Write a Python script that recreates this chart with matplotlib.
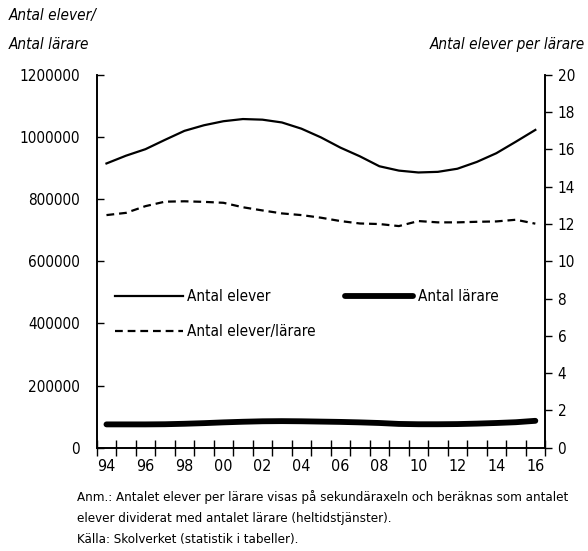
import numpy as np
import matplotlib.pyplot as plt
from matplotlib.ticker import FixedLocator, NullFormatter

plt.rcParams['font.family'] = ['DejaVu Sans']
plt.rcParams['font.stretch'] = 'condensed'

# ---- data ----
years = ['94', '95', '96', '97', '98', '99', '00', '01', '02', '03', '04', '05',
         '06', '07', '08', '09', '10', '11', '12', '13', '14', '15', '16']

elever = [915000, 940000, 961000, 991000, 1020000, 1038000, 1051000, 1058000,
          1056000, 1047000, 1027000, 999000, 966000, 938000, 906000, 892000,
          886000, 888000, 898000, 920000, 948000, 985000, 1023000]

larare = [75000, 75000, 75000, 75500, 77000, 79000, 81500, 83500, 85000, 85500,
          85000, 84000, 83000, 81500, 79500, 76500, 75500, 75500, 76000, 77500,
          79500, 82000, 86500]

elever_per_larare = [12.48, 12.6, 12.96, 13.2, 13.22, 13.19, 13.14, 12.9, 12.73,
                     12.57, 12.48, 12.34, 12.16, 12.03, 12.0, 11.89, 12.16, 12.09,
                     12.09, 12.12, 12.14, 12.23, 12.02]

left_ticks = [0, 200000, 400000, 600000, 800000, 1000000, 1200000]
right_ticks = [0, 2, 4, 6, 8, 10, 12, 14, 16, 18, 20]

x = np.arange(len(years))

fig = plt.figure(figsize=(5.88, 5.51), dpi=100)
ax = fig.add_axes([0.1645, 0.1875, 0.7625, 0.6765])
ax2 = ax.twinx()

l1, = ax.plot(x, elever, color='black', lw=1.6, label='Antal elever')
l2, = ax.plot(x, larare, color='black', lw=4.2, solid_capstyle='round',
              label='Antal lärare')
l3, = ax2.plot(x, elever_per_larare, color='black', lw=1.6, ls=(0, (3.5, 2.2)),
               label='Antal elever/lärare')

ax.set_xlim(-0.5, len(years) - 0.5)
ax.set_ylim(0, 1200000)
ax2.set_ylim(0, 20)

for a in (ax, ax2):
    a.spines['top'].set_visible(False)
    a.spines['left'].set_linewidth(1.2)
    a.spines['right'].set_linewidth(1.2)
    a.spines['bottom'].set_linewidth(1.2)

ax.set_yticks(left_ticks)
ax.set_yticklabels([str(v) for v in left_ticks])
ax.tick_params(axis='y', direction='in', length=5, width=1, pad=12, labelsize=11)

ax2.set_yticks(right_ticks)
ax2.tick_params(axis='y', direction='out', length=5, width=1, pad=4, labelsize=11)

# year labels every other year, tick marks between years
ax.set_xticks(x[::2])
ax.set_xticklabels(years[::2])
ax.xaxis.set_minor_locator(FixedLocator(np.arange(-0.5, len(years), 1.0)))
ax.xaxis.set_minor_formatter(NullFormatter())
ax.tick_params(axis='x', which='major', length=0, pad=8, labelsize=11.5)
ax.tick_params(axis='x', which='minor', direction='inout', length=11, width=1)

fig.legend(handles=[l1, l3, l2], loc='upper left', bbox_to_anchor=(0.172, 0.5),
           ncol=2, frameon=False, fontsize=11, handlelength=4.45,
           handletextpad=0.3, columnspacing=1.9, labelspacing=1.3)

fig.text(0.014, 0.972, 'Antal elever/', style='italic', fontsize=11, va='center')
fig.text(0.014, 0.92, 'Antal lärare', style='italic', fontsize=11, va='center')
fig.text(0.995, 0.92, 'Antal elever per lärare', style='italic', fontsize=11,
         va='center', ha='right')

note = ('Anm.: Antalet elever per lärare visas på sekundäraxeln och beräknas som antalet\n'
        'elever dividerat med antalet lärare (heltidstjänster).\n'
        'Källa: Skolverket (statistik i tabeller).')
fig.text(0.131, 0.11, note, fontsize=9.5, va='top', linespacing=1.78)

fig.savefig('out.png', dpi=100)
